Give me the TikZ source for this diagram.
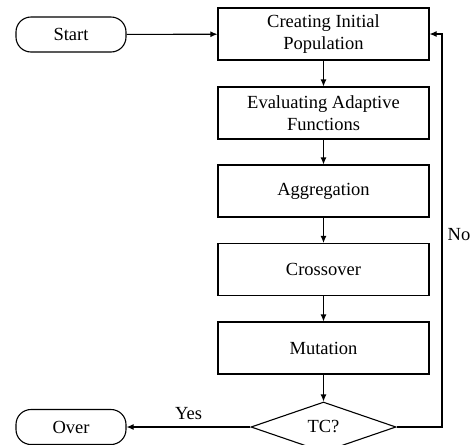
\documentclass[tikz,border=0pt]{standalone}
\usepackage{fontspec}
\setmainfont{Liberation Serif}
\usetikzlibrary{shapes.geometric, arrows.meta}

\begin{document}
\begin{tikzpicture}[x=1pt, y=-1pt, line width=1.1pt, >={Latex[length=7pt, width=6pt]},
        font=\fontsize{18.5}{22}\selectfont]
        \def\midx{323.5}
        \tikzstyle{step box}=[rectangle, draw=black, minimum width=211pt, minimum height=52pt, align=center, inner sep=2pt]
        \tikzstyle{terminal}=[rectangle, rounded corners=15pt, draw=black, minimum width=110pt, minimum height=35pt]
        \tikzstyle{decision}=[diamond, draw=black, aspect=2.9, minimum width=145pt, minimum height=50pt, inner sep=1pt]

        \useasboundingbox (0, 0) rectangle (475, 445);

        % Terminals
        \draw node at (71, 34.5) [terminal] (start) {Start};
        \draw node at (71, 427) [terminal] (over) {Over};

        % Steps
        \draw node at (\midx, 34) [step box] (create) {Creating Initial\\Population};
        \draw node at (\midx, 113) [step box] (evaluate) {Evaluating Adaptive\\Functions};
        \draw node at (\midx, 191) [step box] (aggregate) {Aggregation};
        \draw node at (\midx, 269.5) [step box] (cross) {Crossover};
        \draw node at (\midx, 348) [step box] (mutate) {Mutation};

        % Decision
        \draw node at (\midx, 427) [decision] (tc) {TC?};
        \coordinate (loop) at (442, 34);

        % Flow
        \draw [->] (start) to (create);
        \draw [->] (create) to (evaluate);
        \draw [->] (evaluate) to (aggregate);
        \draw [->] (aggregate) to (cross);
        \draw [->] (cross) to (mutate);
        \draw [->] (mutate) to (tc);
        \draw [->] (tc) to node[above, yshift=3pt] (yes) {Yes} (over);
        \draw [->] (tc.east) -| (loop) -- (create.east);
        \node at (459, 235) (no) {No};

    \end{tikzpicture}
\end{document}
